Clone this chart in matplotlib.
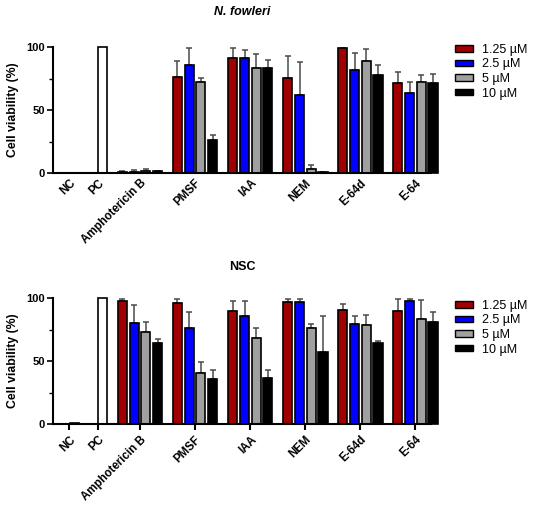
import numpy as np
import matplotlib
matplotlib.use('Agg')
import matplotlib.pyplot as plt
import matplotlib.patches as patches
from matplotlib.ticker import MultipleLocator

plt.rcParams['font.family'] = ['Liberation Sans', 'DejaVu Sans']

# ============================================================================
# DATA
# ============================================================================

categories = ['NC', 'PC', 'Amphotericin B', 'PMSF', 'IAA', 'NEM', 'E-64d', 'E-64']
doses = ['1.25 µM', '2.5 µM', '5 µM', '10 µM']
treatments = categories[2:]

# N. fowleri
nf_controls = [0.0, 100.0]
nf_mean = {
    '1.25 µM': [1.1, 76.5, 91.3, 75.7, 99.0, 71.7],
    '2.5 µM':  [1.1, 86.0, 91.3, 61.9, 82.0, 63.5],
    '5 µM':    [1.6, 72.5, 83.6, 3.4, 88.6, 72.5],
    '10 µM':   [1.3, 26.5, 83.6, 0.5, 77.5, 71.7],
}
nf_err = {
    '1.25 µM': [0.8, 12.5, 7.9, 17.3, 0.5, 8.2],
    '2.5 µM':  [1.0, 13.2, 6.1, 26.5, 13.2, 9.0],
    '5 µM':    [1.6, 2.9, 10.6, 2.7, 9.8, 5.3],
    '10 µM':   [0.3, 3.7, 6.4, 0.3, 7.9, 6.6],
}

# NSC
nsc_controls = [0.4, 100.0]
nsc_mean = {
    '1.25 µM': [97.9, 96.3, 89.7, 97.0, 90.8, 89.7],
    '2.5 µM':  [80.2, 76.3, 85.8, 97.0, 79.2, 97.6],
    '5 µM':    [73.0, 40.6, 68.3, 76.3, 78.4, 83.4],
    '10 µM':   [64.4, 36.1, 36.7, 57.0, 64.1, 81.0],
}
nsc_err = {
    '1.25 µM': [1.6, 3.2, 8.3, 2.5, 4.2, 9.8],
    '2.5 µM':  [14.3, 12.7, 12.2, 2.0, 6.3, 1.4],
    '5 µM':    [8.0, 8.4, 8.2, 2.7, 7.9, 15.0],
    '10 µM':   [3.4, 6.6, 6.0, 28.8, 1.9, 8.0],
}

# ============================================================================
# STYLE
# ============================================================================

DOSE_COLORS = {
    '1.25 µM': '#a00000',
    '2.5 µM': '#0000ff',
    '5 µM': '#a0a0a0',
    '10 µM': '#000000',
}

# category centres in "bar pitch" units
centers = np.array([0, 2.43, 6.04, 10.74, 15.47, 20.17, 24.87, 29.57])
BAR_W = 0.78
CTRL_OFFSET = 0.42


def draw_panel(ax, controls, means, errs, show_xticks):
    # controls (NC, PC) - white bars
    ax.bar(centers[:2] + CTRL_OFFSET, controls, width=BAR_W, color='white',
           edgecolor='black', linewidth=1.2, zorder=2, clip_on=False)

    for i, dose in enumerate(doses):
        xs = centers[2:] + (i - 1.5)
        ax.bar(xs, means[dose], width=BAR_W, color=DOSE_COLORS[dose],
               edgecolor='black', linewidth=1.2, zorder=2, clip_on=False)
        ax.errorbar(xs, means[dose], yerr=[np.zeros(len(xs)), errs[dose]],
                    fmt='none', ecolor='#4a4a4a', elinewidth=1.1, capsize=2.2,
                    capthick=1.1, zorder=1, clip_on=False)

    ax.set_xlim(-1.39, 30.9)
    ax.set_ylim(0, 100)
    ax.yaxis.set_major_locator(MultipleLocator(50))
    ax.yaxis.set_minor_locator(MultipleLocator(25))
    ax.set_xticks(centers)
    ax.set_xticklabels(categories, rotation=45, ha='right',
                       rotation_mode='anchor', fontsize=8.3, fontweight='bold')
    ax.tick_params(axis='x', length=4 if show_xticks else 0, width=1.5, pad=3)
    ax.tick_params(axis='y', which='major', length=4, width=1.2,
                   labelsize=8, pad=2)
    ax.tick_params(axis='y', which='minor', length=3, width=1.0)
    for lbl in ax.get_yticklabels():
        lbl.set_fontweight('bold')

    for side in ['top', 'right']:
        ax.spines[side].set_visible(False)
    for side in ['left', 'bottom']:
        ax.spines[side].set_linewidth(1.5)

    ax.set_ylabel('Cell viability (%)', fontsize=8.8, fontweight='bold', labelpad=5)


fig = plt.figure(figsize=(5.41, 5.09), dpi=100)
W, H = 541, 509

ax_top = fig.add_axes([53 / W, 1 - 173 / H, 378 / W, 126 / H])
ax_bot = fig.add_axes([53 / W, 1 - 424 / H, 378 / W, 126 / H])

draw_panel(ax_top, nf_controls, nf_mean, nf_err, False)
draw_panel(ax_bot, nsc_controls, nsc_mean, nsc_err, True)

fig.text(242 / W, 1 - 12 / H, 'N. fowleri', ha='center', va='center',
         fontsize=9, fontweight='bold', style='italic')
fig.text(242 / W, 1 - 267 / H, 'NSC', ha='center', va='center',
         fontsize=9, fontweight='bold')

handles = [patches.Rectangle((0, 0), 1, 1, facecolor=DOSE_COLORS[d],
                             edgecolor='black', linewidth=1.0) for d in doses]
for top_px in (44, 300):
    fig.legend(handles, doses, loc='upper left',
               bbox_to_anchor=(455 / W, 1 - top_px / H),
               frameon=False, fontsize=9, borderpad=0, borderaxespad=0,
               handlelength=1.4, handleheight=0.45, handletextpad=0.8,
               labelspacing=0.2)

fig.savefig('out.png', dpi=100)
